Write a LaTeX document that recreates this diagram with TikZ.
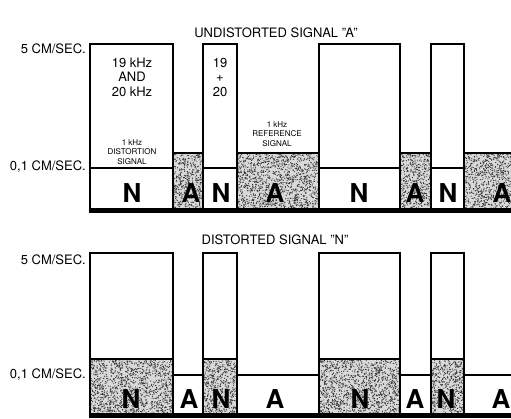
\documentclass[tikz,border=0pt]{standalone}
\usepackage{fontspec}
\setmainfont{TeX Gyre Heros}
\newcommand\stipplebox[5]{%
  \fill[gray!30] (#1,#2) rectangle (#3,#4);
  \foreach \k in {1,...,#5}{%
    \pgfmathsetmacro\rx{#1+rnd*(#3-#1)}%
    \pgfmathsetmacro\ry{#2+rnd*(#4-#2)}%
    \fill[black!80] (\rx,\ry) circle (0.6pt);
  }%
}
\begin{document}
\begin{tikzpicture}[x=1pt,y=-1pt,
  boxline/.style={line width=2.6pt},
  baseln/.style={line width=5pt},
  lbl/.style={font=\fontsize{13}{15}\selectfont, inner sep=0pt},
  inbox/.style={font=\fontsize{13}{14.5}\selectfont, inner sep=0pt, align=center},
  smalltxt/.style={font=\fontsize{8}{9.5}\selectfont, inner sep=0pt, align=center},
  bigletter/.style={font=\bfseries\fontsize{26}{26}\selectfont, inner sep=0pt, anchor=base}]
\useasboundingbox (0,0) rectangle (511,418);
\pgfmathsetseed{1234}
% ---------- stippled areas ----------
\stipplebox{173}{153}{203}{208}{470}
\stipplebox{237}{153}{319}{208}{1270}
\stipplebox{400}{153}{431}{208}{480}
\stipplebox{464}{153}{511}{208}{730}
\stipplebox{90}{359}{173}{413}{1300}
\stipplebox{203}{359}{237}{413}{530}
\stipplebox{319}{359}{400}{413}{1270}
\stipplebox{431}{359}{464}{413}{520}
% ---------- top panel ----------
\draw[boxline] (90,210) -- (90,44) -- (173,44) -- (173,210);
\draw[boxline] (203,210) -- (203,44) -- (237,44) -- (237,210);
\draw[boxline] (319,210) -- (319,44) -- (400,44) -- (400,210);
\draw[boxline] (431,210) -- (431,44) -- (464,44) -- (464,210);
\draw[boxline] (90,168) -- (173,168);
\draw[boxline] (203,168) -- (237,168);
\draw[boxline] (319,168) -- (400,168);
\draw[boxline] (431,168) -- (464,168);
\draw[boxline] (173,153) -- (203,153);
\draw[boxline] (237,153) -- (319,153);
\draw[boxline] (400,153) -- (431,153);
\draw[boxline] (464,153) -- (511,153);
\draw[baseln] (88.7,210) -- (511,210);
\node[lbl] (t1) at (276,33) {UNDISTORTED SIGNAL "A"};
\node[lbl, anchor=east] (l1) at (86,49) {5 CM/SEC.};
\node[lbl, anchor=east] (l2) at (86,167) {0,1 CM/SEC.};
\node[inbox] (b1) at (132,77) {19 kHz\\AND\\20 kHz};
\node[inbox] (b2) at (220,77) {19\\+\\20};
\node[smalltxt] (d1) at (132,152) {1 kHz\\DISTORTION\\SIGNAL};
\node[smalltxt] (r1) at (277,134) {1 kHz\\REFERENCE\\SIGNAL};
\node[bigletter] (u1) at (132,202) {N};
\node[bigletter] (u2) at (191,202) {A};
\node[bigletter] (u3) at (221,202) {N};
\node[bigletter] (u4) at (275,202) {A};
\node[bigletter] (u5) at (359,202) {N};
\node[bigletter] (u6) at (415,202) {A};
\node[bigletter] (u7) at (448,202) {N};
\node[bigletter] (u8) at (502,202) {A};
% ---------- bottom panel ----------
\draw[boxline] (90,415) -- (90,253) -- (173,253) -- (173,415);
\draw[boxline] (203,415) -- (203,253) -- (237,253) -- (237,415);
\draw[boxline] (319,415) -- (319,253) -- (400,253) -- (400,415);
\draw[boxline] (431,415) -- (431,253) -- (464,253) -- (464,415);
\draw[boxline] (90,359) -- (173,359);
\draw[boxline] (203,359) -- (237,359);
\draw[boxline] (319,359) -- (400,359);
\draw[boxline] (431,359) -- (464,359);
\draw[boxline] (173,375) -- (203,375);
\draw[boxline] (237,375) -- (319,375);
\draw[boxline] (400,375) -- (431,375);
\draw[boxline] (464,375) -- (511,375);
\draw[baseln] (88.7,415.5) -- (511,415.5);
\node[lbl] (t2) at (275,240) {DISTORTED SIGNAL "N"};
\node[lbl, anchor=east] (l3) at (86,260) {5 CM/SEC.};
\node[lbl, anchor=east] (l4) at (86,375) {0,1 CM/SEC.};
\node[bigletter] (v1) at (131,408) {N};
\node[bigletter] (v2) at (189,408) {A};
\node[bigletter] (v3) at (221,408) {N};
\node[bigletter] (v4) at (275,408) {A};
\node[bigletter] (v5) at (360,408) {N};
\node[bigletter] (v6) at (415,408) {A};
\node[bigletter] (v7) at (446,408) {N};
\node[bigletter] (v8) at (501,408) {A};
\end{tikzpicture}
\end{document}
